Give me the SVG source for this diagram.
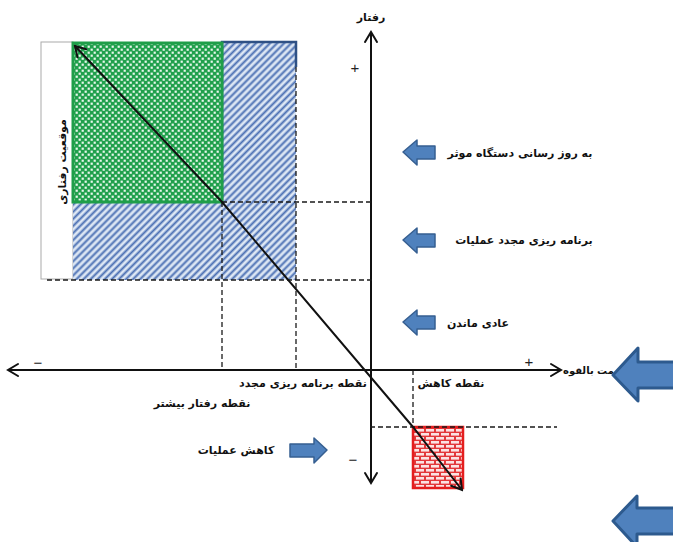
<svg xmlns="http://www.w3.org/2000/svg" width="673" height="542" viewBox="0 0 673 542">
<style>
.t{font-family:"DejaVu Sans",sans-serif;font-weight:bold;font-size:11px;fill:#111;text-anchor:middle}
.sym{font-family:"Liberation Sans",sans-serif;font-size:15px;fill:#222;text-anchor:middle}
.ax{stroke:#111;stroke-width:2;fill:none}
.dash{stroke:#1a1a1a;stroke-width:1.3;stroke-dasharray:5,3;fill:none}
.blk{fill:#4f81bd;stroke:#365f91;stroke-width:1.5;stroke-linejoin:round}
.big{fill:#4f81bd;stroke:#2d5a8e;stroke-width:3;stroke-linejoin:round}
</style>
<defs>
<marker id="arr" viewBox="-12 -8 14 16" refX="0" refY="0" markerWidth="14" markerHeight="16" markerUnits="userSpaceOnUse" orient="auto-start-reverse">
<path d="M-10,-6 L0,0 L-10,6" fill="none" stroke="#111" stroke-width="2" stroke-linecap="round"/>
</marker>
<pattern id="hatch" patternUnits="userSpaceOnUse" width="5" height="5" patternTransform="rotate(45)">
<rect width="5" height="5" fill="#dde7f4"/>
<line x1="1.5" y1="0" x2="1.5" y2="5" stroke="#4a6fb3" stroke-width="2"/>
</pattern>
<pattern id="check" patternUnits="userSpaceOnUse" width="6" height="6">
<rect width="6" height="6" fill="#20a04c"/>
<rect x="0.6" y="0.6" width="2.2" height="2.2" fill="#e8f7ec"/>
<rect x="3.6" y="3.6" width="2.2" height="2.2" fill="#e8f7ec"/>
</pattern>
<pattern id="brick" patternUnits="userSpaceOnUse" width="10" height="8">
<rect width="10" height="8" fill="#e2383a"/>
<rect x="1" y="1" width="8" height="2.6" fill="#fbe3e3"/>
<rect x="-4" y="5" width="8" height="2.6" fill="#fbe3e3"/>
<rect x="6" y="5" width="8" height="2.6" fill="#fbe3e3"/>
</pattern>
</defs>
<rect width="673" height="542" fill="#fff"/>

<g id="label-box">
<rect x="41" y="42" width="32" height="237" fill="#fff" stroke="#aaa" stroke-width="1"/>
<text class="t" transform="rotate(-90 62 162)" x="62" y="166">موقعیت رفتاری</text>
</g>

<g id="hatch-region">
<rect x="73" y="202" width="150" height="78" fill="url(#hatch)"/>
<rect x="222" y="42" width="74" height="238" fill="url(#hatch)"/>
<path d="M222,202 V42 H296 V67" fill="none" stroke="#2f5185" stroke-width="2.5"/>
</g>

<g id="green-region">
<rect x="73" y="43" width="149" height="159" fill="url(#check)" stroke="#1f9e49" stroke-width="3"/>
</g>

<g id="red-region">
<rect x="413" y="427" width="50" height="61" fill="url(#brick)" stroke="#e41e1e" stroke-width="2.5"/>
</g>

<g id="connectors">
<line class="ax" x1="371" y1="483" x2="371" y2="32" marker-start="url(#arr)" marker-end="url(#arr)"/>
<line class="ax" x1="8" y1="370" x2="561" y2="370" marker-start="url(#arr)" marker-end="url(#arr)"/>
<path class="dash" d="M222,202 H372"/>
<path class="dash" d="M47,280 H372"/>
<path class="dash" d="M222,202 V370"/>
<path class="dash" d="M296,67 V370"/>
<path class="dash" d="M413,370 V427"/>
<path class="dash" d="M370,427 H557"/>
<path d="M75,46 L222,202 L413,427 L462,490" fill="none" stroke="#111" stroke-width="2" marker-start="url(#arr)" marker-end="url(#arr)"/>
</g>

<g id="axis-labels">
<text class="t" x="371" y="21">رفتار</text>
<text class="sym" x="355" y="73">+</text>
<text class="sym" x="529" y="367">+</text>
<text class="sym" x="38" y="368">−</text>
<text class="sym" x="353" y="465">−</text>
<text class="t" x="563" y="374" style="text-anchor:start;font-size:10px">مت بالقوه</text>
</g>

<g id="point-labels">
<text class="t" x="303" y="387">نقطه برنامه ریزی مجدد</text>
<text class="t" x="202" y="407">نقطه رفتار بیشتر</text>
<text class="t" x="451" y="387">نقطه کاهش</text>
</g>

<g id="node-update">
<path class="blk" d="M403,152 L417,140 L417,146 L435,146 L435,159 L417,159 L417,165 Z"/>
<text class="t" x="520" y="157">به روز رسانی دستگاه موثر</text>
</g>

<g id="node-reschedule">
<path class="blk" d="M403,240 L417,228 L417,234 L435,234 L435,247 L417,247 L417,253 Z"/>
<text class="t" x="524" y="244">برنامه ریزی مجدد عملیات</text>
</g>

<g id="node-normal">
<path class="blk" d="M403,322 L417,310 L417,316 L435,316 L435,329 L417,329 L417,335 Z"/>
<text class="t" x="478" y="327">عادی ماندن</text>
</g>

<g id="node-reduce">
<path class="blk" d="M327,450 L314,438 L314,444 L290,444 L290,457 L314,457 L314,463 Z"/>
<text class="t" x="236" y="454">کاهش عملیات</text>
</g>

<g id="big-arrow-1">
<path class="big" d="M613,375 L638,348 L638,362 L676,362 L676,388 L638,388 L638,401 Z"/>
</g>

<g id="big-arrow-2">
<path class="big" d="M613,521 L637,496 L637,508 L676,508 L676,534 L637,534 L637,547 Z"/>
</g>
</svg>
